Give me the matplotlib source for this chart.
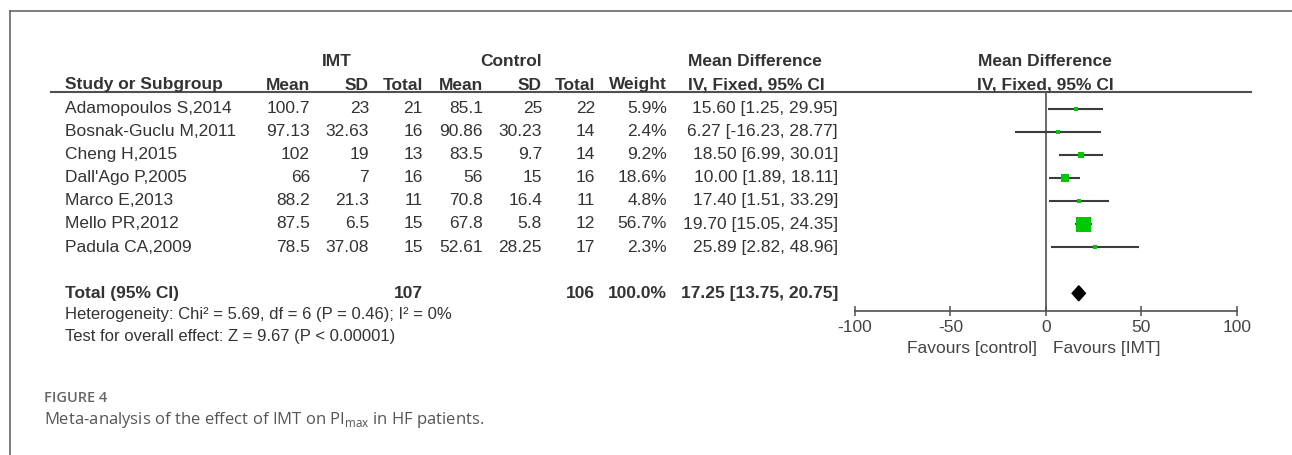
import numpy as np
import matplotlib
matplotlib.use('Agg')
import matplotlib.pyplot as plt

plt.rcParams['font.family'] = ['Liberation Sans', 'DejaVu Sans']
plt.rcParams['mathtext.fontset'] = 'custom'
plt.rcParams['mathtext.rm'] = 'Open Sans'

# data
studies = ['Adamopoulos S,2014', 'Bosnak-Guclu M,2011', 'Cheng H,2015', "Dall'Ago P,2005",
           'Marco E,2013', 'Mello PR,2012', 'Padula CA,2009']
imt_mean = [100.7, 97.13, 102, 66, 88.2, 87.5, 78.5]
imt_sd = [23, 32.63, 19, 7, 21.3, 6.5, 37.08]
imt_n = [21, 16, 13, 16, 11, 15, 15]
ctl_mean = [85.1, 90.86, 83.5, 56, 70.8, 67.8, 52.61]
ctl_sd = [25, 30.23, 9.7, 15, 16.4, 5.8, 28.25]
ctl_n = [22, 14, 14, 16, 11, 12, 17]
weight = [5.9, 2.4, 9.2, 18.6, 4.8, 56.7, 2.3]
md = [15.60, 6.27, 18.50, 10.00, 17.40, 19.70, 25.89]
ci_lo = [1.25, -16.23, 6.99, 1.89, 1.51, 15.05, 2.82]
ci_hi = [29.95, 28.77, 30.01, 18.11, 33.29, 24.35, 48.96]
total_imt = 107
total_ctl = 106
total_weight = 100.0
total_md = 17.25
total_lo = 13.75
total_hi = 20.75
xticks = [-100, -50, 0, 50, 100]

W, H = 1292, 455
fig = plt.figure(figsize=(W / 100, H / 100), dpi=100)

# overlay axes in pixel units for the table text
ax = fig.add_axes([0, 0, 1, 1])
ax.set_xlim(0, W)
ax.set_ylim(H, 0)
ax.axis('off')

TXT = '#333333'
LINE = '#505050'
FS = 12.5
ROW0, ROWH = 108.5, 23.1

def row_y(i):
    return ROW0 + ROWH * i

# frame
ax.plot([9.5, W], [10.5, 10.5], color='#666666', lw=1.2)
ax.plot([9.5, 9.5], [10.5, H], color='#666666', lw=1.2)

# header
hy1, hy2 = 62, 85
ax.text(337, hy1, 'IMT', ha='center', va='center', fontsize=FS, fontweight='bold', color=TXT)
ax.text(511, hy1, 'Control', ha='center', va='center', fontsize=FS, fontweight='bold', color=TXT)
ax.text(688, hy1, 'Mean Difference', ha='left', va='center', fontsize=FS, fontweight='bold', color=TXT)
ax.text(1045, hy1, 'Mean Difference', ha='center', va='center', fontsize=FS, fontweight='bold', color=TXT)
ax.text(65, hy2, 'Study or Subgroup', ha='left', va='center', fontsize=FS, fontweight='bold', color=TXT)
cols_r = [310, 369, 423, 483, 542, 595, 667]
for x, lab in zip(cols_r, ['Mean', 'SD', 'Total', 'Mean', 'SD', 'Total', 'Weight']):
    ax.text(x, hy2, lab, ha='right', va='center', fontsize=FS, fontweight='bold', color=TXT)
ax.text(688, hy2, 'IV, Fixed, 95% CI', ha='left', va='center', fontsize=FS, fontweight='bold', color=TXT)
ax.text(1045, hy2, 'IV, Fixed, 95% CI', ha='center', va='center', fontsize=FS, fontweight='bold', color=TXT)
ax.plot([51, 1251], [92, 92], color=LINE, lw=1.5)

# study rows
for i, name in enumerate(studies):
    y = row_y(i)
    ax.text(65, y, name, ha='left', va='center', fontsize=FS, color=TXT)
    vals = [f'{imt_mean[i]:g}', f'{imt_sd[i]:g}', f'{imt_n[i]}',
            f'{ctl_mean[i]:g}', f'{ctl_sd[i]:g}', f'{ctl_n[i]}', f'{weight[i]:.1f}%']
    for x, v in zip(cols_r, vals):
        ax.text(x, y, v, ha='right', va='center', fontsize=FS, color=TXT)
    ax.text(838, y, f'{md[i]:.2f} [{ci_lo[i]:.2f}, {ci_hi[i]:.2f}]',
            ha='right', va='center', fontsize=FS, color=TXT)

# total row
ty = row_y(8)
ax.text(65, ty, 'Total (95% CI)', ha='left', va='center', fontsize=FS, fontweight='bold', color=TXT)
ax.text(423, ty, f'{total_imt}', ha='right', va='center', fontsize=FS, fontweight='bold', color=TXT)
ax.text(595, ty, f'{total_ctl}', ha='right', va='center', fontsize=FS, fontweight='bold', color=TXT)
ax.text(667, ty, f'{total_weight:.1f}%', ha='right', va='center', fontsize=FS, fontweight='bold', color=TXT)
ax.text(838, ty, f'{total_md:.2f} [{total_lo:.2f}, {total_hi:.2f}]',
        ha='right', va='center', fontsize=FS, fontweight='bold', color=TXT)
ax.text(65, 315, 'Heterogeneity: Chi² = 5.69, df = 6 (P = 0.46); I² = 0%',
        ha='left', va='center', fontsize=12, color=TXT)
ax.text(65, 336, 'Test for overall effect: Z = 9.67 (P < 0.00001)',
        ha='left', va='center', fontsize=12, color=TXT)

# caption
ax.text(44, 398, 'FIGURE 4', ha='left', va='center', fontsize=10.5, fontweight='semibold',
        color='#666666', family=['Open Sans', 'DejaVu Sans'])
ax.text(44, 420, 'Meta-analysis of the effect of IMT on PI$_{\\rm max}$ in HF patients.',
        ha='left', va='center', fontsize=12, color='#555555', family=['Open Sans', 'DejaVu Sans'])

# forest plot axes
x_left, x_right = 855, 1236.7
y_top, y_bot = 92, 310.7
fax = fig.add_axes([x_left / W, 1 - y_bot / H, (x_right - x_left) / W, (y_bot - y_top) / H])
fax.set_xlim(-100, 100)
fax.set_ylim((y_bot - ROW0) / ROWH, (y_top - ROW0) / ROWH)
fax.patch.set_alpha(0)
for s in ['top', 'left', 'right']:
    fax.spines[s].set_visible(False)
fax.spines['bottom'].set_color(LINE)
fax.spines['bottom'].set_linewidth(1.2)
fax.set_yticks([])
fax.set_xticks(xticks)
fax.set_xticklabels([str(t) for t in xticks])
fax.tick_params(axis='x', direction='inout', length=7, width=1.1, color=LINE,
                labelsize=FS, labelcolor='#444444', pad=3)
fax.axvline(0, color=LINE, lw=1.2, zorder=1)

green = '#00c800'
for i in range(len(studies)):
    fax.plot([ci_lo[i], ci_hi[i]], [i, i], color='#3c3c3c', lw=1.5, solid_capstyle='butt', zorder=2)
    side_px = max(15 * np.sqrt(weight[i] / max(weight)), 4)
    fax.plot(md[i], i, marker='s', markersize=side_px * 0.72, color=green,
             markeredgewidth=0, zorder=3)

dh = 7.5 / ROWH
fax.fill([total_lo, total_md, total_hi, total_md], [8, 8 - dh, 8, 8 + dh],
         color='black', zorder=3)

ax.text(1037, 348, 'Favours [control]', ha='right', va='center', fontsize=FS, color='#444444')
ax.text(1053, 348, 'Favours [IMT]', ha='left', va='center', fontsize=FS, color='#444444')

fig.savefig('out.png', dpi=100)
